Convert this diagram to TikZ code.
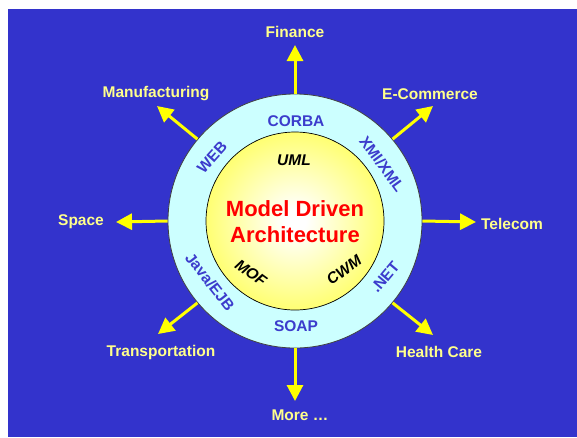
\documentclass[tikz,border=0pt]{standalone}
\usepackage{fontspec}
\setmainfont{Liberation Sans}
\usetikzlibrary{arrows.meta}
\definecolor{bgblue}{RGB}{51,51,204}
\definecolor{ringcyan}{RGB}{204,255,255}
\definecolor{coreyellow}{RGB}{255,255,95}
\definecolor{arrowyellow}{RGB}{255,255,0}
\definecolor{lblyellow}{RGB}{255,255,140}
\definecolor{ringblue}{RGB}{60,60,204}
\definecolor{mdared}{RGB}{255,0,0}
\pgfdeclareradialshading{coreshade}{\pgfpoint{0bp}{0bp}}{%
  color(0bp)=(white); color(3bp)=(white); color(28bp)=(coreyellow); color(50bp)=(coreyellow)}
\begin{document}
\begin{tikzpicture}[x=1pt,y=-1pt,
  outlbl/.style={text=lblyellow, font=\bfseries\fontsize{15.5}{18}\selectfont, inner sep=0pt},
  ringlbl/.style={text=ringblue, font=\bfseries\fontsize{15.5}{18}\selectfont, inner sep=0pt},
  corelbl/.style={text=black, font=\bfseries\itshape\fontsize{15.5}{18}\selectfont, inner sep=0pt},
  arr/.style={draw=arrowyellow, line width=3pt, -{Triangle[length=16pt,width=16pt]}}]
\useasboundingbox (0,0) rectangle (577,437);
\fill[white] (0,0) rectangle (577,437);
\fill[bgblue] (8,9) rectangle (577,437);
% circles
\node[circle, minimum size=254pt, inner sep=0pt, fill=ringcyan, draw=black!75, line width=0.8pt] (outer) at (295,221) {};
\node[circle, minimum size=178pt, inner sep=0pt, shading=coreshade, draw=black, line width=0.7pt] (core) at (295,221) {};
% arrow tips
\coordinate (tFin) at (295,45);
\coordinate (tMore) at (295,401);
\coordinate (tSpace) at (116,222);
\coordinate (tTel) at (476,222);
\coordinate (tMan) at (157,106);
\coordinate (tEC) at (433,106);
\coordinate (tTr) at (158,334);
\coordinate (tHC) at (433,335);
\draw[arr] (outer.90) -- (tFin);
\draw[arr] (outer.270) -- (tMore);
\draw[arr] (outer.180) -- (tSpace);
\draw[arr] (outer.0) -- (tTel);
\draw[arr] (outer.140) -- (tMan);
\draw[arr] (outer.40) -- (tEC);
\draw[arr] (outer.220) -- (tTr);
\draw[arr] (outer.320) -- (tHC);
% outer labels
\node[outlbl] (lFin) at (295,32) {Finance};
\node[outlbl] (lMore) at (300,415) {More \dots};
\node[outlbl] (lSpace) at (81,222) {Space};
\node[outlbl] (lTel) at (512,224) {Telecom};
\node[outlbl] (lMan) at (156,94) {Manufacturing};
\node[outlbl] (lEC) at (430,94) {E-Commerce};
\node[outlbl] (lTr) at (161,352) {Transportation};
\node[outlbl] (lHC) at (439,352) {Health Care};
% ring labels
\node[ringlbl] (rCorba) at (296,121) {CORBA};
\node[ringlbl] (rSoap) at (296,326) {SOAP};
\node[ringlbl, rotate=48] (rWeb) at (212,157) {WEB};
\node[ringlbl, rotate=-54] (rXmi) at (382,164) {XMI/XML};
\node[ringlbl, rotate=-52] (rJava) at (210,282) {Java/EJB};
\node[ringlbl, rotate=50] (rNet) at (385,277) {.NET};
% core labels
\node[corelbl] (cUml) at (294,160) {UML};
\node[corelbl, rotate=-36] (cMof) at (251,273) {MOF};
\node[corelbl, rotate=36] (cCwm) at (344,270) {CWM};
\node[text=mdared, font=\bfseries\fontsize{22}{26}\selectfont, align=center, inner sep=0pt] (mda) at (295,222) {Model Driven\\Architecture};
\end{tikzpicture}
\end{document}
